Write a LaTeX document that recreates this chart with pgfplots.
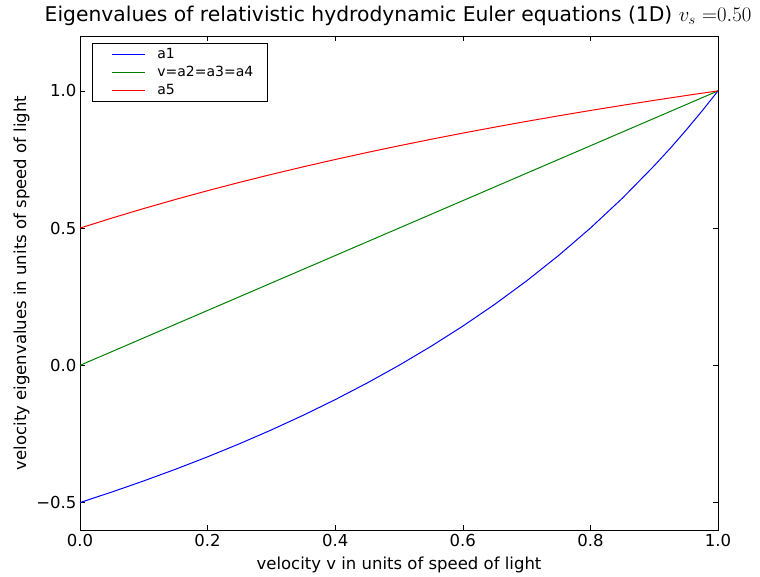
\documentclass[border=0pt]{standalone}
\usepackage{pgfplots}
\pgfplotsset{compat=1.18}
\usepackage{fontspec}
\setmainfont{DejaVu Sans}

% characteristic speeds for sound speed v_s = 0.5
\pgfplotstableread{
v     aone      vel    afive
0.00  -0.50000  0.00   0.50000
0.05  -0.46154  0.05   0.53659
0.10  -0.42105  0.10   0.57143
0.15  -0.37838  0.15   0.60465
0.20  -0.33333  0.20   0.63636
0.25  -0.28571  0.25   0.66667
0.30  -0.23529  0.30   0.69565
0.35  -0.18182  0.35   0.72340
0.40  -0.12500  0.40   0.75000
0.45  -0.06452  0.45   0.77551
0.50   0.00000  0.50   0.80000
0.55   0.06897  0.55   0.82353
0.60   0.14286  0.60   0.84615
0.65   0.22222  0.65   0.86792
0.70   0.30769  0.70   0.88889
0.75   0.40000  0.75   0.90909
0.80   0.50000  0.80   0.92857
0.85   0.60870  0.85   0.94737
0.90   0.72727  0.90   0.96552
0.925  0.79032  0.925  0.97436
0.95   0.85714  0.95   0.98305
0.975  0.92683  0.975  0.99160
1.00   1.00000  1.00   1.00000
}\eigtab

\begin{document}
\begin{tikzpicture}[x=1pt,y=1pt]
\useasboundingbox (-80,-46) rectangle (680,530);
\begin{axis}[
  at={(0,0)}, anchor=south west,
  width=638pt, height=494pt, scale only axis,
  xmin=0, xmax=1, ymin=-0.6, ymax=1.2,
  xtick={0,0.2,0.4,0.6,0.8,1.0},
  xticklabels={0.0,0.2,0.4,0.6,0.8,1.0},
  ytick={-0.5,0,0.5,1.0},
  yticklabels={−0.5,0.0,0.5,1.0},
  tick align=inside,
  major tick length=5pt,
  tick style={black, line width=0.6pt},
  axis line style={line width=0.9pt},
  ticklabel style={font=\fontsize{16.5}{18}\selectfont},
  xticklabel style={yshift=-1pt},
  label style={font=\fontsize{16.5}{18}\selectfont},
  xlabel={velocity v in units of speed of light},
  ylabel={velocity eigenvalues in units of speed of light},
  xlabel style={yshift=-3pt},
  title={Eigenvalues of relativistic hydrodynamic Euler equations (1D) $v_s\ {=}0.50$},
  title style={font=\fontsize{20.3}{22}\selectfont, yshift=1pt, xshift=-1pt},
  legend cell align=left,
  legend style={at={(rel axis cs:0.0188,0.9858)}, anchor=north west,
    draw=black, line width=0.8pt,
    nodes={font=\fontsize{14}{16}\selectfont, inner sep=0pt,
      text height=10.5pt, text depth=3pt},
    inner xsep=14pt, inner ysep=4.2pt, row sep=4.5pt, column sep=12pt},
  legend image code/.code={%
    \path (0pt,0pt);
    \draw[mark repeat=2, mark phase=2, line width=1pt]
      plot coordinates {(5pt,0pt) (21.5pt,0pt) (38pt,0pt)};},
]
\addplot[blue, line width=1pt] table[x=v, y=aone] {\eigtab};
\addlegendentry{a1}
\addplot[green!50!black, line width=1pt] table[x=v, y=vel] {\eigtab};
\addlegendentry{v=a2=a3=a4}
\addplot[red, line width=1pt] table[x=v, y=afive] {\eigtab};
\addlegendentry{a5}
\end{axis}
\end{tikzpicture}
\end{document}
